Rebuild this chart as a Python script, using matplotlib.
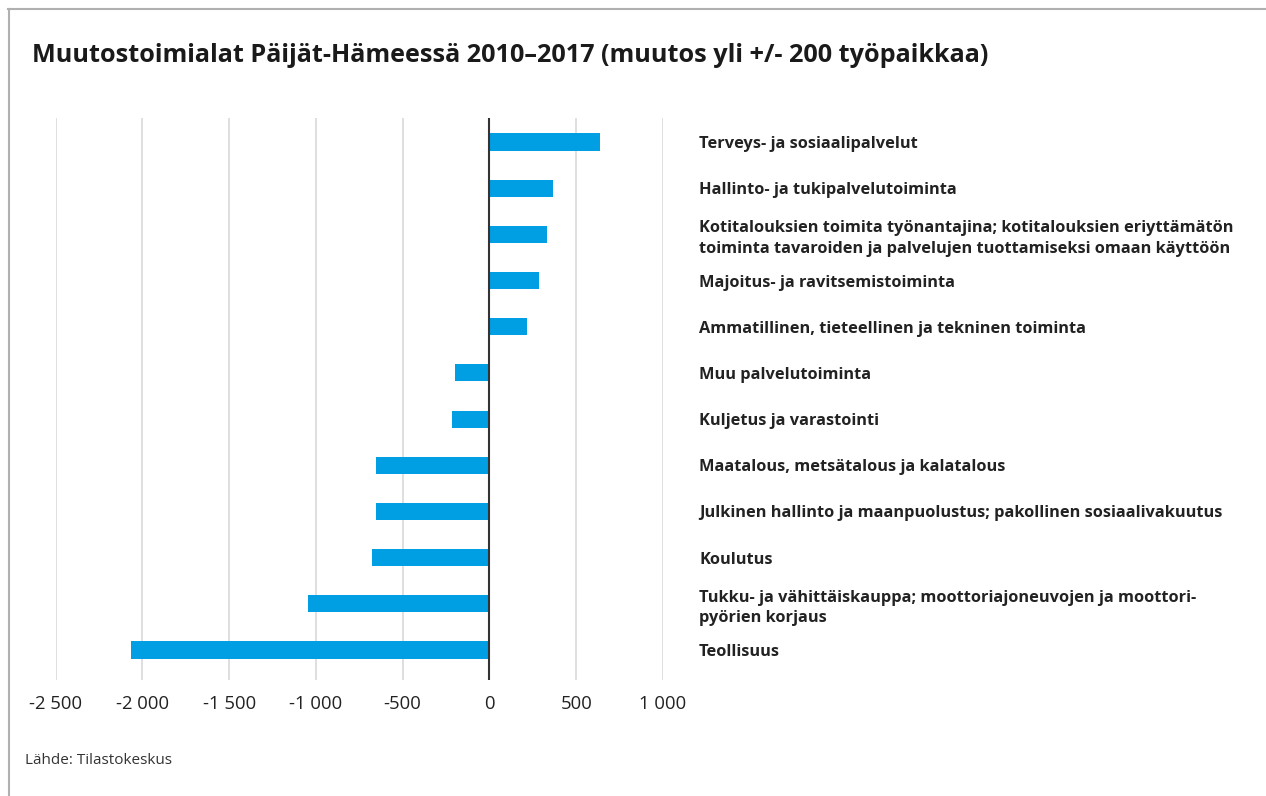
import matplotlib.pyplot as plt
from matplotlib.lines import Line2D

# data
categories = [
    "Terveys- ja sosiaalipalvelut",
    "Hallinto- ja tukipalvelutoiminta",
    "Kotitalouksien toimita työnantajina; kotitalouksien eriyttämätön\ntoiminta tavaroiden ja palvelujen tuottamiseksi omaan käyttöön",
    "Majoitus- ja ravitsemistoiminta",
    "Ammatillinen, tieteellinen ja tekninen toiminta",
    "Muu palvelutoiminta",
    "Kuljetus ja varastointi",
    "Maatalous, metsätalous ja kalatalous",
    "Julkinen hallinto ja maanpuolustus; pakollinen sosiaalivakuutus",
    "Koulutus",
    "Tukku- ja vähittäiskauppa; moottoriajoneuvojen ja moottori-\npyörien korjaus",
    "Teollisuus",
]
changes = [636, 368, 333, 283, 215, -198, -218, -655, -655, -675, -1043, -2066]

xticks = [-2500, -2000, -1500, -1000, -500, 0, 500, 1000]
xticklabels = ["-2 500", "-2 000", "-1 500", "-1 000", "-500", "0", "500", "1 000"]

title = "Muutostoimialat Päijät-Hämeessä 2010–2017 (muutos yli +/- 200 työpaikkaa)"
source = "Lähde: Tilastokeskus"

plt.rcParams['font.family'] = ['Open Sans', 'DejaVu Sans']

fig = plt.figure(figsize=(12.66, 7.96), dpi=100)
ax = fig.add_axes([0.0439, 0.1457, 0.4798, 0.7061])

ypos = list(range(len(categories)))
ax.barh(ypos, changes, height=0.37, color="#009FE3", zorder=3)

ax.set_xlim(-2500, 1000)
ax.set_ylim(11.65, -0.52)
ax.set_xticks(xticks)
ax.set_xticklabels(xticklabels, fontsize=13.3, color="#222222")
ax.grid(axis="x", color="#d9d9d9", linewidth=1.2, zorder=0)
ax.axvline(0, color="#333333", linewidth=1.5, zorder=4)

ax.yaxis.tick_right()
ax.set_yticks(ypos)
ax.set_yticklabels(categories, fontsize=11.8, fontweight="bold", color="#222222",
                   linespacing=1.35, ha="left")
ax.tick_params(axis="y", length=0, pad=26)
ax.tick_params(axis="x", length=0, pad=11)
for s in ax.spines.values():
    s.set_visible(False)

fig.text(0.0253, 0.930, title, fontsize=18.2, fontweight="bold", color="#1a1a1a",
         va="center", ha="left")
fig.text(0.0198, 0.045, source, fontsize=11, color="#333333", va="center", ha="left")

# thin grey frame at top and left like the source image
fig.add_artist(Line2D([0.006, 1.0], [0.989, 0.989], transform=fig.transFigure,
                      color="#b0b0b0", linewidth=1.5))
fig.add_artist(Line2D([0.007, 0.007], [0.0, 0.989], transform=fig.transFigure,
                      color="#b0b0b0", linewidth=1.5))

fig.savefig("out.png", dpi=100)
